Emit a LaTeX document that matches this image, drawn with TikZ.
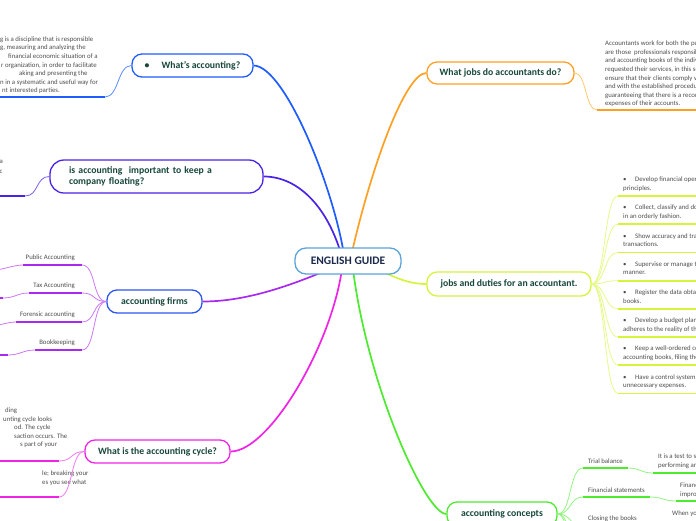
\documentclass[tikz,border=0pt]{standalone}
\usepackage{fontspec}
\setmainfont{Carlito}
\definecolor{txtgreen}{HTML}{17473A}
\definecolor{rootblue}{HTML}{5BA3D9}
\definecolor{roottext}{HTML}{1B2A4A}
\definecolor{cblue}{HTML}{1F5CFF}
\definecolor{cbluel}{HTML}{5B8BFF}
\definecolor{cindigo}{HTML}{4B23E6}
\definecolor{cindigol}{HTML}{7A5CF0}
\definecolor{cfirms}{HTML}{2F55F0}
\definecolor{cpurple}{HTML}{A82AEE}
\definecolor{cpurplel}{HTML}{CC78F5}
\definecolor{cmag}{HTML}{F022E6}
\definecolor{cmagl}{HTML}{F57AF0}
\definecolor{corange}{HTML}{FFA024}
\definecolor{corangel}{HTML}{FFC868}
\definecolor{cyel}{HTML}{D4F53C}
\definecolor{cyell}{HTML}{E4FA88}
\definecolor{cgreen}{HTML}{4CEB2E}
\definecolor{cgreenl}{HTML}{92F580}
\definecolor{gtext}{HTML}{4D4D4D}
\pgfdeclarelayer{bg}
\pgfsetlayers{bg,main}
\begin{document}
\begin{tikzpicture}[x=1pt,y=-1pt,
  root/.style={draw=rootblue, line width=1.3pt, rounded corners=11pt, fill=white, inner sep=0pt,
    minimum width=106pt, minimum height=26pt, text=roottext, font=\fontsize{11.5}{13}\selectfont\bfseries},
  branch/.style={draw=#1, line width=1.3pt, rounded corners=10pt, fill=white, inner sep=0pt,
    text=txtgreen, font=\fontsize{9.7}{11}\selectfont\bfseries},
  small/.style={inner sep=0pt, text=gtext, font=\fontsize{6.8}{8.6}\selectfont, align=left},
  conn/.style={draw=#1, line width=1.7pt},
  twig/.style={draw=#1, line width=0.8pt},
  uline/.style={draw=#1, line width=1.8pt}]
\useasboundingbox (0,0) rectangle (696,520);

% root
\node[root] (root) at (348,261) {ENGLISH GUIDE};

% ---------- What's accounting ----------
\node[branch=cblue, minimum width=121pt, minimum height=23pt] (n1) at (192.5,65.5) {•\hspace{12pt}What's accounting?};
\node[small, anchor=north west] (t1) at (0,36.3) {g is a discipline that is responsible\\
g, measuring and analyzing the\\
\hspace*{8pt}financial economic situation of a\\
\hspace*{1pt}r organization, in order to facilitate\\
\hspace*{19pt}aking and presenting the\\
n in a systematic and useful way for\\
\hspace*{2pt}nt interested parties.};
\coordinate (u1) at (105,97);
\draw[twig=cbluel] (n1.west) .. controls +(-14,0) and +(14,0) .. (u1);
\draw[uline=cblue] (u1) -- ++(-110,0);

% ---------- is accounting important ----------
\node[branch=cindigo, minimum width=213pt, minimum height=33pt, text width=175pt, align=left, rounded corners=14pt] (n2) at (156.5,176.5) {is accounting\ \ important to keep a\\company floating?};
\node[small, anchor=base west] (t2a) at (-0.5,163.7) {a};
\node[small, anchor=base west] (t2b) at (-0.5,173.7) {c};
\coordinate (u2) at (25,196);
\draw[twig=cindigol] (n2.west) .. controls +(-14,0) and +(14,0) .. (u2);
\draw[uline=cindigo] (u2) -- ++(-30,0);

% ---------- accounting firms ----------
\node[branch=cfirms, minimum width=95pt, minimum height=23pt] (n3) at (154.5,301.5) {accounting firms};
\node[small, anchor=base east] (f1) at (75,259.5) {Public Accounting};
\node[small, anchor=base east] (f2) at (75,287.5) {Tax Accounting};
\node[small, anchor=base east] (f3) at (75,316.5) {Forensic accounting};
\node[small, anchor=base east] (f4) at (75,344.5) {Bookkeeping};
\coordinate (f1r) at (82,265); \coordinate (f1l) at (23,265);
\coordinate (f2r) at (82,293); \coordinate (f2l) at (29,293);
\coordinate (f3r) at (82,322); \coordinate (f3l) at (16,322);
\coordinate (f4r) at (82,350); \coordinate (f4l) at (35,350);
\coordinate (f2e) at (3,298); \coordinate (f4e) at (8,355);
\draw[twig=cpurplel] (n3.west) .. controls +(-14,0) and +(14,0) .. (f1r);
\draw[twig=cpurplel] (n3.west) .. controls +(-14,0) and +(14,0) .. (f2r);
\draw[twig=cpurplel] (n3.west) .. controls +(-14,0) and +(14,0) .. (f3r);
\draw[twig=cpurplel] (n3.west) .. controls +(-14,0) and +(14,0) .. (f4r);
\draw[uline=cpurple] (f1l) -- (f1r);
\draw[uline=cpurple] (f2l) -- (f2r);
\draw[uline=cpurple] (f3l) -- (f3r);
\draw[uline=cpurple] (f4l) -- (f4r);
\draw[twig=cpurplel] (f1l) .. controls +(-10,0) and +(10,0) .. ++(-30,5);
\draw[twig=cpurplel] (f2l) .. controls +(-12,0) and +(12,0) .. (f2e);
\draw[uline=cpurple] (f2e) -- ++(-20,0);
\draw[twig=cpurplel] (f3l) .. controls +(-10,0) and +(10,0) .. ++(-30,5);
\draw[twig=cpurplel] (f4l) .. controls +(-12,0) and +(12,0) .. (f4e);
\draw[uline=cpurple] (f4e) -- ++(-20,0);

% ---------- accounting cycle ----------
\node[branch=cmag, minimum width=145pt, minimum height=23pt] (n4) at (157.5,451.5) {What is the accounting cycle?};
\node[small, anchor=north west] (c1) at (0,407.5) {\hspace*{5pt}ding\\
\hspace*{3pt}unting cycle looks\\
\hspace*{14pt}od. The cycle\\
\hspace*{14pt}saction occurs. The\\
\hspace*{20pt}s part of your};
\node[small, anchor=north west] (c2) at (0,470.8) {\hspace*{42pt}le; breaking your\\
\hspace*{42pt}es you see what};
\coordinate (cu1) at (59,461); \coordinate (cu2) at (59,497);
\draw[twig=cmagl] (n4.west) .. controls +(-14,0) and +(14,0) .. (cu1);
\draw[twig=cmagl] (n4.west) .. controls +(-14,0) and +(14,0) .. (cu2);
\draw[uline=cmag] (cu1) -- ++(-70,0);
\draw[uline=cmag] (cu2) -- ++(-70,0);

% ---------- What jobs ----------
\node[branch=corange, minimum width=147pt, minimum height=22pt] (n5) at (500.5,73) {What jobs do accountants do?};
\node[small, anchor=north west] (j1) at (605,40.8) {Accountants work for both the public\\
are those\ \ professionals responsible\\
and accounting books of the individuals\\
requested their services, in this sense\\
ensure that their clients comply with\\
and with the established procedures\\
guaranteeing that there is a record\\
expenses of their accounts.};
\coordinate (ju) at (597,110);
\draw[twig=corangel] (n5.east) .. controls +(12,0) and +(-12,0) .. (ju);
\draw[uline=corange] (ju) -- ++(110,0);

% ---------- jobs and duties ----------
\node[branch=cyel, minimum width=164pt, minimum height=24pt] (n6) at (509,284) {jobs and duties for an accountant.};
\node[small, anchor=north west] (d1) at (623,176.8) {\makebox[12pt][l]{•}Develop financial operations\\principles.};
\node[small, anchor=north west] (d2) at (623,205.0) {\makebox[12pt][l]{•}Collect, classify and document\\in an orderly fashion.};
\node[small, anchor=north west] (d3) at (623,233.2) {\makebox[12pt][l]{•}Show accuracy and transparency\\transactions.};
\node[small, anchor=north west] (d4) at (623,261.4) {\makebox[12pt][l]{•}Supervise or manage the\\manner.};
\node[small, anchor=north west] (d5) at (623,289.6) {\makebox[12pt][l]{•}Register the data obtained\\books.};
\node[small, anchor=north west] (d6) at (623,317.8) {\makebox[12pt][l]{•}Develop a budget plan that\\adheres to the reality of the};
\node[small, anchor=north west] (d7) at (623,346.0) {\makebox[12pt][l]{•}Keep a well-ordered control\\accounting books, filing the};
\node[small, anchor=north west] (d8) at (623,374.2) {\makebox[12pt][l]{•}Have a control system\\unnecessary expenses.};
\coordinate (d1u) at (618,196.0);
\coordinate (d2u) at (618,224.2);
\coordinate (d3u) at (618,252.4);
\coordinate (d4u) at (618,280.6);
\coordinate (d5u) at (618,308.8);
\coordinate (d6u) at (618,337.0);
\coordinate (d7u) at (618,365.2);
\coordinate (d8u) at (618,393.4);
\foreach \k in {1,...,8}{
  \draw[twig=cyell] (n6.east) .. controls +(14,0) and +(-14,0) .. (d\k u);
  \draw[uline=cyel] (d\k u) -- ++(90,0);
}

% ---------- accounting concepts ----------
\node[branch=cgreen, minimum width=110pt, minimum height=24pt] (n7) at (502,514) {accounting concepts};
\node[small, anchor=base west] (k1) at (588,463.5) {Trial balance};
\node[small, anchor=base west] (k2) at (588,492) {Financial statements};
\node[small, anchor=base west] (k3) at (588,520.5) {Closing the books};
\node[small, anchor=north west] (k1t) at (658,454) {It is a test to see\\performing an};
\node[small, anchor=north west] (k2t) at (680,482.8) {Financial\\improve};
\node[small, anchor=base west] (k3t) at (672,515.7) {When you};
\coordinate (k1l) at (583,468); \coordinate (k1r) at (628,468); \coordinate (k1c) at (653,473);
\coordinate (k2l) at (583,497); \coordinate (k2r) at (650,497); \coordinate (k2c) at (676,501);
\coordinate (k3l) at (583,526); \coordinate (k3r) at (640,526);
\coordinate (k4l) at (583,555); \coordinate (k5l) at (583,585);
\draw[twig=cgreenl] (n7.east) .. controls +(14,0) and +(-14,0) .. (k1l);
\draw[twig=cgreenl] (n7.east) .. controls +(14,0) and +(-14,0) .. (k2l);
\draw[twig=cgreenl] (n7.east) .. controls +(14,0) and +(-14,0) .. (k3l);
\draw[twig=cgreenl] (n7.east) .. controls +(14,0) and +(-14,0) .. (k4l);
\draw[twig=cgreenl] (n7.east) .. controls +(14,0) and +(-14,0) .. (k5l);
\draw[uline=cgreen] (k1l) -- (k1r);
\draw[uline=cgreen] (k2l) -- (k2r);
\draw[uline=cgreen] (k3l) -- (k3r);
\draw[twig=cgreenl] (k1r) .. controls +(12,0) and +(-12,0) .. (k1c);
\draw[twig=cgreenl] (k2r) .. controls +(12,0) and +(-12,0) .. (k2c);
\draw[uline=cgreen] (k1c) -- ++(60,0);
\draw[uline=cgreen] (k2c) -- ++(60,0);

% ---------- main connectors ----------
\begin{pgfonlayer}{bg}
\draw[conn=cblue] ([xshift=-3pt]root.center) .. controls (335,190) and (285,66) .. (n1.east);
\draw[conn=cindigo] ([xshift=-5pt]root.center) .. controls (330,210) and (300,176.5) .. (n2.east);
\draw[conn=cpurple] (root.center) .. controls (290,287) and (245,301.5) .. (n3.east);
\draw[conn=cmag] ([xshift=-5pt]root.center) .. controls (335,340) and (270,451.5) .. (n4.east);
\draw[conn=corange] ([xshift=2pt]root.center) .. controls (370,170) and (405,73) .. (n5.west);
\draw[conn=cyel] ([xshift=12pt]root.center) .. controls (390,275) and (405,284) .. (n6.west);
\draw[conn=cgreen] ([xshift=4pt]root.center) .. controls (365,380) and (425,514) .. (n7.west);
\end{pgfonlayer}
\end{tikzpicture}
\end{document}
